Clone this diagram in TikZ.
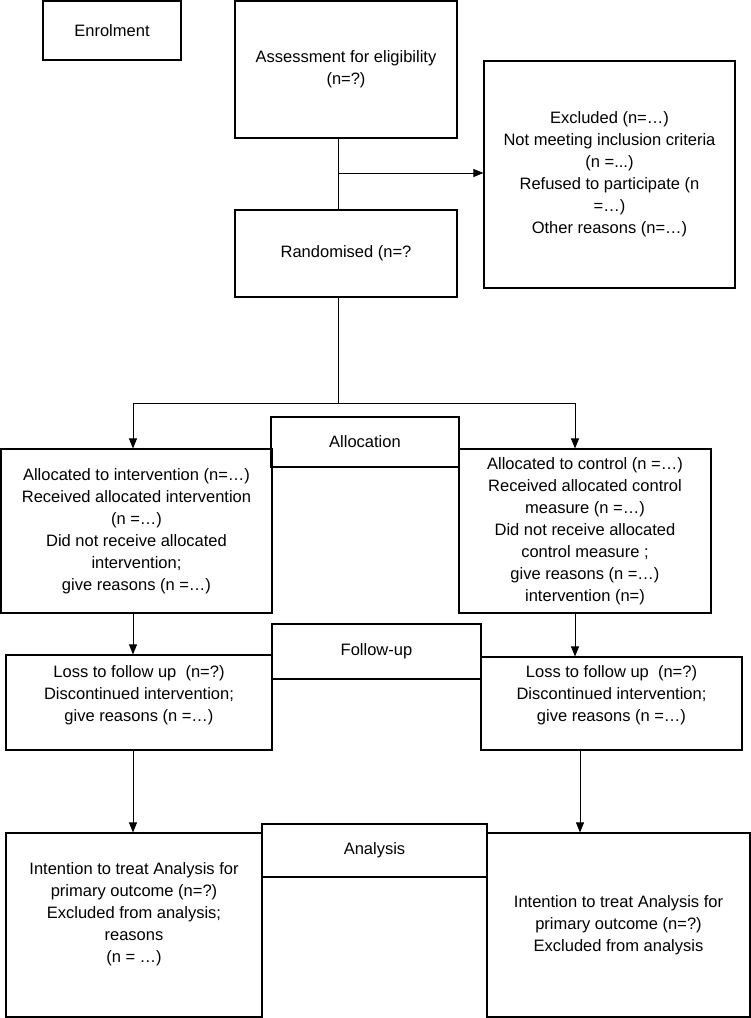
\documentclass[tikz,border=0pt]{standalone}
\usepackage{fontspec}
\setmainfont{Liberation Sans}
\usetikzlibrary{arrows.meta}
\begin{document}
\begin{tikzpicture}[x=1pt,y=-1pt,
  box/.style={draw=black,line width=1.2pt,inner sep=0pt,font=\fontsize{16.5}{22}\selectfont,align=center},
  lbl/.style={font=\fontsize{16.5}{22}\selectfont,align=center,inner sep=0pt},
  conn/.style={line width=0.8pt},
  arr/.style={conn,-{Triangle[length=10pt,width=8pt]}}]
\useasboundingbox (0,0) rectangle (751,1018);
% boxes
\node[box,minimum width=138pt,minimum height=59pt] (enrol) at (112,30.5) {Enrolment};
\node[box,minimum width=222pt,minimum height=137pt] (assess) at (346,69.5) {Assessment for eligibility\\(n=?)};
\node[box,minimum width=251pt,minimum height=227pt] (excl) at (609.5,174.5) {Excluded (n=…)\\Not meeting inclusion criteria\\(n =...)\\Refused to participate (n\\=…)\\Other reasons (n=…)};
\node[box,minimum width=222pt,minimum height=87pt] (rand) at (346,253.5) {Randomised (n=?};
\node[box,minimum width=271pt,minimum height=164pt] (allocL) at (136.5,531) {Allocated to intervention (n=…)\\Received allocated intervention\\(n =…)\\Did not receive allocated\\intervention;\\give reasons (n =…)};
\node[box,minimum width=252pt,minimum height=164pt] (allocR) at (585,531) {Allocated to control (n =…)\\Received allocated control\\measure (n =…)\\Did not receive allocated\\control measure ;\\give reasons (n =…)\\intervention (n=)};
\node[box,minimum width=188pt,minimum height=50pt] (allocation) at (365,442) {Allocation};
\node[box,minimum width=266pt,minimum height=95pt] (lossL) at (139,702.5) {};
\node[lbl] (lossLt) at (139,695) {Loss to follow up\ \ (n=?)\\Discontinued intervention;\\give reasons (n =…)};
\node[box,minimum width=261pt,minimum height=93pt] (lossR) at (611.5,703.5) {};
\node[lbl] (lossRt) at (611.5,695) {Loss to follow up\ \ (n=?)\\Discontinued intervention;\\give reasons (n =…)};
\node[box,minimum width=209pt,minimum height=55pt] (followup) at (376.5,651.5) {Follow-up};
\node[box,minimum width=256pt,minimum height=184pt] (anaL) at (134,925) {};
\node[lbl] (anaLt) at (134,914) {Intention to treat Analysis for\\primary outcome (n=?)\\Excluded from analysis;\\reasons\\(n = …)};
\node[box,minimum width=263pt,minimum height=184pt] (anaR) at (618.5,925) {Intention to treat Analysis for\\primary outcome (n=?)\\Excluded from analysis};
\node[box,minimum width=225pt,minimum height=53pt] (analysis) at (374.5,850.5) {Analysis};
% connectors
\coordinate (j1) at (338,173);
\coordinate (j2) at (338,403);
\coordinate (jl) at (133,403);
\coordinate (jr) at (575,403);
\coordinate (kl) at (133,760);
\coordinate (kr) at (580,760);
\draw[conn] (assess.south -| j1) -- (rand.north -| j1);
\draw[arr] (j1) -- (excl.west |- j1);
\draw[conn] (rand.south -| j2) -- (j2);
\draw[conn] (jl) -- (jr);
\draw[arr] (jl) -- (allocL.north -| jl);
\draw[arr] (jr) -- (allocR.north -| jr);
\draw[arr] (allocL.south -| jl) -- (lossL.north -| jl);
\draw[arr] (allocR.south -| jr) -- (lossR.north -| jr);
\draw[arr] (lossL.south -| kl) -- (anaL.north -| kl);
\draw[arr] (lossR.south -| kr) -- (anaR.north -| kr);
\end{tikzpicture}
\end{document}
